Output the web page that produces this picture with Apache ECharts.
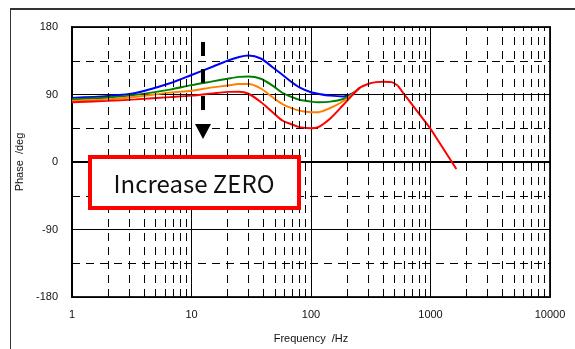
<!DOCTYPE html>
<html>
<head>
<meta charset="utf-8">
<script src="https://cdn.jsdelivr.net/npm/echarts@6/dist/echarts.min.js"></script>
<style>
html,body{margin:0;padding:0;background:#fff;}
#chart{width:575px;height:349px;}
</style>
</head>
<body>
<div id="chart"></div>
<script>
// Frequency (Hz) and phase (deg) values
var freqMain = [1, 2, 3.4, 6.6, 10, 15, 20, 25, 30, 38, 48, 58, 67, 80, 100, 115, 145, 186, 220, 256];
var phaseBlue   = [85.5, 88, 92, 105, 116, 127, 135, 140, 142, 138, 126, 116, 108, 99.5, 93, 91, 88.5, 87.5, 91, 99];
var phaseGreen  = [83.5, 86, 89.5, 96.5, 102.5, 107.5, 111, 113.5, 114, 111, 101.5, 92, 87.5, 83, 80.5, 79.8, 80.5, 84, 90.5, 99];
var phaseOrange = [81.5, 83.5, 87, 92.5, 95, 99.5, 102, 104, 104, 98, 86, 77, 72.5, 68.5, 66.5, 66.5, 72, 81, 89.5, 99];
// red curve: smooth part and straight roll-off part
var freqRed  = [1, 2, 3.4, 6.6, 10, 15, 20, 25, 30, 38, 48, 58, 67, 80, 100, 115, 145, 186, 220, 256, 300, 350, 400, 470, 532];
var phaseRed = [79.8, 81.5, 83.5, 86.5, 88.5, 91.5, 93.5, 93.8, 91, 80, 66, 55, 51, 46.5, 45, 46.5, 58, 76, 88.5, 99, 104, 106.5, 107, 106.5, 102];
var freqRedTail  = [532, 590, 985, 1646];
var phaseRedTail = [102, 92.2, 45.9, -9.4];
// Axis ticks
var xTicks = [1, 10, 100, 1000, 10000];
var xMinorGrid = [2,3,4,5,6,7,8,9,20,30,40,50,60,70,80,90,200,300,400,500,600,700,800,900,2000,3000,4000,5000,6000,7000,8000,9000];
var yTicks = [-180, -90, 0, 90, 180];

function pairs(xs, ys){ return xs.map(function(x,i){ return [x, ys[i]]; }); }

var labelFont = '"Liberation Sans Narrow", "Liberation Sans", Arial, sans-serif';

var chart = echarts.init(document.getElementById('chart'), null, {renderer:'canvas'});
var lineCommon = {type:'line', symbol:'none', smooth:0.3};
var option = {
  animation:false,
  backgroundColor:'#fff',
  grid:{left:72, right:25, top:27, bottom:50.5, show:true, borderColor:'#222', borderWidth:2, backgroundColor:'transparent'},
  xAxis:{
    type:'log', logBase:10, min:xTicks[0], max:xTicks[xTicks.length-1],
    name:'Frequency  /Hz', nameLocation:'middle', nameGap:36,
    nameTextStyle:{fontFamily:labelFont, fontSize:11, color:'#111'},
    axisLine:{show:true, lineStyle:{color:'#000', width:2}},
    axisTick:{show:false},
    axisLabel:{fontFamily:labelFont, fontSize:11, color:'#111', margin:12, formatter:function(v){ return String(Math.round(v)); }},
    splitLine:{show:true, lineStyle:{color:'#000', width:1}}
  },
  yAxis:{
    type:'value', min:yTicks[0], max:yTicks[yTicks.length-1], interval:90,
    name:'Phase  /deg', nameLocation:'middle', nameGap:43,
    nameTextStyle:{fontFamily:labelFont, fontSize:11, color:'#111'},
    axisLine:{show:true, lineStyle:{color:'#000', width:2}},
    axisTick:{show:false},
    axisLabel:{fontFamily:labelFont, fontSize:11, color:'#111', margin:14, formatter:function(v){ return String(v); }},
    splitLine:{show:true, lineStyle:{color:'#000', width:1}},
    minorTick:{show:false, splitNumber:2},
    minorSplitLine:{show:true, lineStyle:{color:'#000', width:1, type:[8,6]}}
  },
  series:[
    Object.assign({}, lineCommon, {data:pairs(freqMain, phaseBlue), lineStyle:{color:'#0000ff', width:2}, z:3}),
    Object.assign({}, lineCommon, {data:pairs(freqMain, phaseGreen), lineStyle:{color:'#008000', width:2}, z:3}),
    Object.assign({}, lineCommon, {data:pairs(freqMain, phaseOrange), lineStyle:{color:'#ff7f00', width:2}, z:3}),
    Object.assign({}, lineCommon, {data:pairs(freqRed, phaseRed), lineStyle:{color:'#ff0000', width:2}, z:4,
      markLine:{silent:true, symbol:['none','none'], label:{show:false},
        lineStyle:{color:'#000', width:1, type:[8,6]},
        data: xMinorGrid.map(function(v){ return {xAxis:v}; })
      }
    }),
    {type:'line', symbol:'none', smooth:false, data:pairs(freqRedTail, phaseRedTail), lineStyle:{color:'#ff0000', width:2}, z:4}
  ],
  graphic:[
    {type:'rect', shape:{x:10.5, y:9.5, width:620, height:400}, style:{fill:'none', stroke:'#333', lineWidth:1}, z:0, silent:true},
    {type:'line', shape:{x1:10, y1:9, x2:575, y2:9}, style:{stroke:'#333', lineWidth:2}, z:0, silent:true},
    {type:'line', shape:{x1:203, y1:42, x2:203, y2:122}, style:{stroke:'#000', lineWidth:4, lineDash:[14,13]}, z:100},
    {type:'polygon', shape:{points:[[195,124],[211,124],[203,139]]}, style:{fill:'#000'}, z:100},
    {type:'rect', shape:{x:90, y:157, width:209, height:51}, style:{fill:'#fff', stroke:'#ff0000', lineWidth:4}, z:100},
    {type:'text', x:194, y:184, style:{text:'Increase ZERO', fontFamily:'"Noto Sans CJK JP", "Noto Sans", sans-serif', fontSize:24, fill:'#111', align:'center', verticalAlign:'middle'}, z:101}
  ]
};
chart.setOption(option);
</script>
</body>
</html>
